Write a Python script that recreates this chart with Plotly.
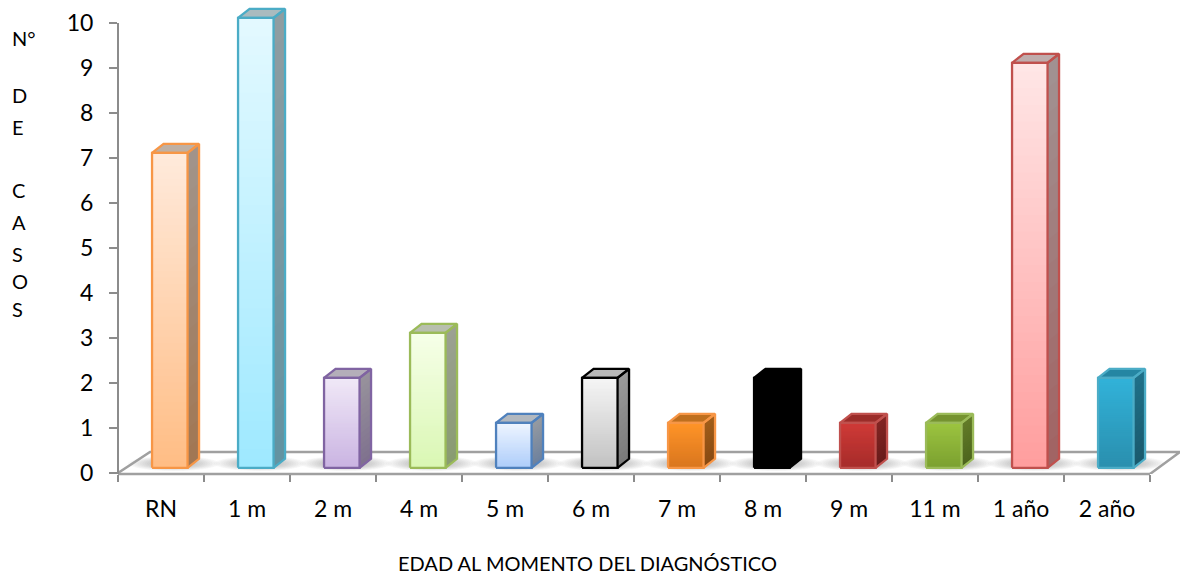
import plotly.graph_objects as go

# ---- data ----
categories = ["RN", "1 m", "2 m", "4 m", "5 m", "6 m", "7 m", "8 m", "9 m", "11 m", "1 año", "2 año"]
casos = [7, 10, 2, 3, 1, 2, 1, 2, 1, 1, 9, 2]
y_ticks = list(range(0, 11))
x_title = "EDAD AL MOMENTO DEL DIAGNÓSTICO"
y_title_letters = ["N°", "D", "E", "C", "A", "S", "O", "S"]

# ---- styles ----
front_top = ["#FFEADB", "#E3F9FF", "#F0E8F7", "#F6FFE8", "#EEF5FF", "#F5F5F5",
             "#FF9428", "#000000", "#CF3A37", "#9CC440", "#FFE6E6", "#31B2D9"]
front_bot = ["#FFBD85", "#9FE9FF", "#CAB4E2", "#DAF7B4", "#AECDFA", "#C2C2C2",
             "#D9761E", "#000000", "#A62C2A", "#7BA030", "#FF9E9E", "#2A8FAE"]
border = ["#F79646", "#4BACC6", "#8064A2", "#9BBB59", "#4F81BD", "#000000",
          "#F79646", "#000000", "#C0504D", "#9BBB59", "#C0504D", "#4BACC6"]
y_title_px = [38, 95, 127, 190, 222, 254, 281, 309]
AXIS = "#8C8C8C"
FONT = "Lato"

# ---- layout geometry ----
W, H = 1180, 576
L, R, T, B = 118, 0, 0, 102
PX_X = 86.0      # pixels per category
PX_Y = 45.0      # pixels per unit
plot_w, plot_h = W - L - R, H - T - B
x_lo = -0.5
x_hi = x_lo + plot_w / PX_X
y_zero_px = 473.0
y_hi = y_zero_px / PX_Y
y_lo = y_hi - plot_h / PX_Y
n_cat = len(categories)

BAR_W = 35.5 / PX_X
SHIFT = 8.8 / PX_X     # front face sits to the right of the tick cell centre
LIFT = 5.2 / PX_Y      # and above the front floor edge
DX, DY = 11.5 / PX_X, 9.0 / PX_Y   # depth of the 3D extrusion
EDGE = 2.3


def rgb(h):
    h = h.lstrip("#")
    return tuple(int(h[i:i + 2], 16) for i in (0, 2, 4))


def mix(a, b, t, k=1.0):
    ca, cb = rgb(a), rgb(b)
    return "rgb(%d,%d,%d)" % tuple(round((ca[i] + (cb[i] - ca[i]) * t) * k) for i in range(3))


fig = go.Figure()
N_FRONT, N_SIDE = 48, 16

for i, v in enumerate(casos):
    x0 = i + SHIFT - BAR_W / 2
    x1 = i + SHIFT + BAR_W / 2
    y0 = LIFT
    y1 = v + LIFT
    # front face gradient: painter's order, each band runs down to the base
    tops = [y1 - (y1 - y0) * k / N_FRONT for k in range(N_FRONT)]
    cols = [mix(front_top[i], front_bot[i], k / (N_FRONT - 1)) for k in range(N_FRONT)]
    fig.add_trace(go.Bar(
        x=[i + SHIFT] * N_FRONT, y=[t - y0 for t in tops], base=[y0] * N_FRONT,
        width=BAR_W, marker=dict(color=cols, line=dict(width=0)),
        showlegend=False, hoverinfo="skip"))
    # side face gradient
    for k in range(N_SIDE):
        t = y1 - (y1 - y0) * k / N_SIDE
        fig.add_trace(go.Scatter(
            x=[x1, x1 + DX, x1 + DX, x1, x1], y=[t, t + DY, y0 + DY, y0, t],
            mode="lines", line=dict(width=0), fill="toself",
            fillcolor=mix(front_top[i], front_bot[i], k / (N_SIDE - 1), 0.63),
            showlegend=False, hoverinfo="skip"))
    # top face
    fig.add_trace(go.Scatter(
        x=[x0, x1, x1 + DX, x0 + DX, x0], y=[y1, y1, y1 + DY, y1 + DY, y1],
        mode="lines", line=dict(color=border[i], width=EDGE), fill="toself",
        fillcolor=mix(front_top[i], front_top[i], 0, 0.75),
        showlegend=False, hoverinfo="skip"))
    # outlines of the front and side faces
    fig.add_trace(go.Scatter(
        x=[x0, x1, x1, x0, x0, None, x1, x1 + DX, x1 + DX, x1],
        y=[y0, y0, y1, y1, y0, None, y0, y0 + DY, y1 + DY, y1],
        mode="lines", line=dict(color=border[i], width=EDGE),
        showlegend=False, hoverinfo="skip"))

# floor: back edge and diagonals, below the bars
shapes = []
floor_back = 21 / PX_Y
# soft shadow of every bar on the floor
N_SHADOW = 12
for i in range(n_cat):
    cx = i + SHIFT + 4 / PX_X
    for k in range(N_SHADOW):
        hw = (46 - 2.4 * k) / PX_X
        hh = (7.5 - 0.35 * k) / PX_Y
        cy = 9.5 / PX_Y
        shapes.append(dict(type="circle", layer="below", xref="x", yref="y",
                           x0=cx - hw, x1=cx + hw, y0=cy - hh, y1=cy + hh,
                           fillcolor="rgba(90,90,90,0.026)", line=dict(width=0)))
shapes.append(dict(type="path", layer="below", xref="x", yref="y",
                   path="M %f %f L %f %f L %f %f L %f %f" % (
                       x_lo, 0, x_lo + 32 / PX_X, floor_back,
                       x_hi, floor_back, n_cat - 0.5, y_lo),
                   line=dict(color="#A0A0A0", width=2.5)))
# front floor edge (paper in y, so half of it is not clipped)
shapes.append(dict(type="line", layer="below", xref="x", yref="paper",
                   x0=x_lo, x1=n_cat - 0.5, y0=0, y1=0,
                   line=dict(color="#A0A0A0", width=2.5)))
# value axis line: stops at the 10 tick
shapes.append(dict(type="line", layer="above", xref="paper", yref="y",
                   x0=0, x1=0, y0=y_lo, y1=y_ticks[-1],
                   line=dict(color=AXIS, width=2)))

ann = []
for txt, py in zip(y_title_letters, y_title_px):
    ann.append(dict(text=txt, xref="paper", yref="paper", showarrow=False,
                    x=(11 - L) / plot_w, y=(H - B - py) / plot_h,
                    xanchor="left", yanchor="middle", borderpad=0,
                    font=dict(family=FONT, size=20, color="#000000")))
ann.append(dict(text=x_title, xref="paper", yref="paper", showarrow=False,
                x=(587 - L) / plot_w, y=(H - B - 563) / plot_h,
                xanchor="center", yanchor="middle", borderpad=0,
                font=dict(family=FONT, size=20, color="#000000")))

fig.update_layout(
    width=W, height=H, margin=dict(l=L, r=R, t=T, b=B, pad=0, autoexpand=False),
    paper_bgcolor="white", plot_bgcolor="white", barmode="overlay",
    showlegend=False, shapes=shapes, annotations=ann,
    font=dict(family=FONT, color="#000000"),
    xaxis=dict(range=[x_lo, x_hi], showgrid=False, zeroline=False, showline=False,
               tickmode="array", tickvals=list(range(n_cat)), ticktext=categories,
               ticks="", ticklabelstandoff=19, tickfont=dict(family=FONT, size=23, color="#000000"),
               minor=dict(tickmode="array", tickvals=[k - 0.5 for k in range(n_cat + 1)],
                          ticks="outside", ticklen=7, tickwidth=2, tickcolor=AXIS, showgrid=False)),
    yaxis=dict(range=[y_lo, y_hi], showgrid=False, zeroline=False, showline=False,
               tickmode="array", tickvals=y_ticks,
               ticks="outside", ticklen=8, tickwidth=2, tickcolor=AXIS,
               ticklabelstandoff=11, tickfont=dict(family=FONT, size=23, color="#000000")),
)

fig.write_html("out.html", config={"displayModeBar": False},
               post_script="document.body.style.margin='0';document.documentElement.style.overflow='hidden';")
